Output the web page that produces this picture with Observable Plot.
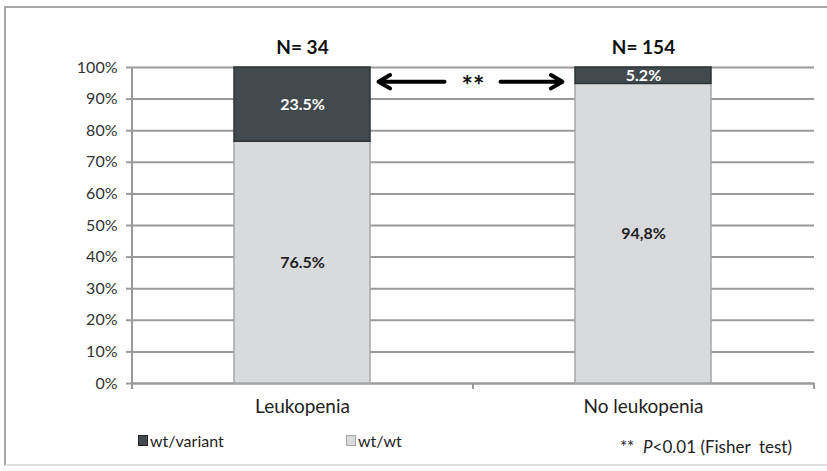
<!DOCTYPE html>
<html>
<head>
<meta charset="utf-8">
<script src="https://cdn.jsdelivr.net/npm/d3@7"></script>
<script src="https://cdn.jsdelivr.net/npm/@observablehq/plot@0.6"></script>
<style>
  html, body { margin: 0; padding: 0; background: #fff; }
  #wrap { position: relative; width: 827px; height: 471px; overflow: hidden; font-family: Lato, "Open Sans", sans-serif; }
  #frame { position: absolute; left: 4px; top: 6px; width: 900px; height: 460px; border-left: 2px solid #a8a8a8; border-top: 2px solid #a8a8a8; border-bottom: 2px solid #e0e0e0; box-sizing: border-box; pointer-events: none; }
  #chart { position: absolute; left: 0; top: 0; }
  .leg { position: absolute; top: 431px; font-size: 16px; color: #222; display: flex; align-items: center; }
  .sw { width: 10px; height: 11px; margin-right: 2px; box-sizing: border-box; }
  #note { position: absolute; top: 436px; right: 35px; font-size: 17px; color: #222; }
</style>
</head>
<body>
<div id="wrap">
  <div id="frame"></div>
  <div id="chart"></div>
  <div class="leg" style="left:138px"><div class="sw" style="background:#434a4d;border:1px solid #222"></div>wt/variant</div>
  <div class="leg" style="left:346px"><div class="sw" style="background:#d9dadc;border:1px solid #a5a7aa"></div>wt/wt</div>
  <div id="note">**&nbsp; <i>P</i>&lt;0.01 (Fisher&nbsp; test)</div>
</div>
<script>
const categories = ["Leukopenia", "No leukopenia"];
const nLabels = ["N= 34", "N= 154"];
const genotypes = ["wt/wt", "wt/variant"];
const wtwt = [76.5, 94.8];
const wtVariant = [23.5, 5.2];
const wtwtLabels = ["76.5%", "94,8%"];
const wtVariantLabels = ["23.5%", "5.2%"];
const yTicks = [0, 10, 20, 30, 40, 50, 60, 70, 80, 90, 100];
const arrowLevel = 95.5;
const sigLabel = "**";

const rows = [];
categories.forEach((c, i) => {
  rows.push({cat: c, g: genotypes[0], v: wtwt[i], label: wtwtLabels[i]});
  rows.push({cat: c, g: genotypes[1], v: wtVariant[i], label: wtVariantLabels[i]});
});

const W = 827, H = 471, ML = 132, MR = 13, MT = 67, MB = 88;
const step = (W - ML - MR) / categories.length;

function frameLines(index, scales, values, dims) {
  const g = d3.create("svg:g");
  const x0 = dims.marginLeft, x1 = dims.width - dims.marginRight;
  const yb = dims.height - dims.marginBottom, yt = dims.marginTop;
  g.append("line").attr("x1", x0).attr("x2", x0).attr("y1", yt).attr("y2", yb)
    .attr("stroke", "#999").attr("stroke-width", 2);
  const n = categories.length;
  for (let k = 0; k <= n; k++) {
    const x = x0 + (x1 - x0) * k / n;
    g.append("line").attr("x1", x).attr("x2", x).attr("y1", yb).attr("y2", yb + 6)
      .attr("stroke", "#999").attr("stroke-width", 2);
  }
  return g.node();
}

const chart = Plot.plot({
  width: W, height: H,
  marginLeft: ML, marginRight: MR, marginTop: MT, marginBottom: MB,
  style: {fontFamily: "Lato, 'Open Sans', sans-serif", background: "transparent"},
  x: {domain: categories, paddingInner: 0.6, paddingOuter: 0.3, label: null},
  y: {domain: [0, 100], label: null},
  color: {domain: genotypes, range: ["#d9dadc", "#434a4d"]},
  marks: [
    Plot.gridY(yTicks, {stroke: "#9a9a9a", strokeOpacity: 1, strokeWidth: 2}),
    Plot.axisY(yTicks, {tickFormat: d => d + "%", tickSize: 6, tickPadding: 9, fontSize: 16, stroke: "#9a9a9a", strokeWidth: 2, color: "#333", label: null}),
    Plot.axisX({tickSize: 0, tickPadding: 16, fontSize: 19, color: "#222", label: null}),
    Plot.ruleY([0], {stroke: "#9a9a9a", strokeWidth: 2}),
    frameLines,
    Plot.barY(rows, {x: "cat", y: "v", fill: "g", stroke: d => d.g === genotypes[1] ? "#2e3436" : "#a5a7aa", strokeWidth: 1.5}),
    Plot.text(rows, Plot.stackY({x: "cat", y: "v", text: "label", fill: d => d.g === genotypes[1] ? "white" : "#222", fontWeight: "bold", fontSize: 16})),
    Plot.text(categories, {x: d => d, y: () => 100, text: (d, i) => nLabels[i], dy: -20, fontWeight: "bold", fontSize: 19, fill: "#111"}),
    Plot.arrow([0], {x1: () => categories[1], x2: () => categories[0], y1: () => arrowLevel, y2: () => arrowLevel, insetStart: 199, insetEnd: 76, stroke: "#000", strokeWidth: 4, headLength: 5}),
    Plot.arrow([0], {x1: () => categories[0], x2: () => categories[1], y1: () => arrowLevel, y2: () => arrowLevel, insetStart: 198, insetEnd: 81, stroke: "#000", strokeWidth: 4, headLength: 5}),
    Plot.text([sigLabel], {x: () => categories[0], y: () => arrowLevel, dx: step / 2, dy: 5, text: d => d, fontSize: 27, fontWeight: "bold", fill: "#111"})
  ]
});
document.getElementById("chart").appendChild(chart);
</script>
</body>
</html>
